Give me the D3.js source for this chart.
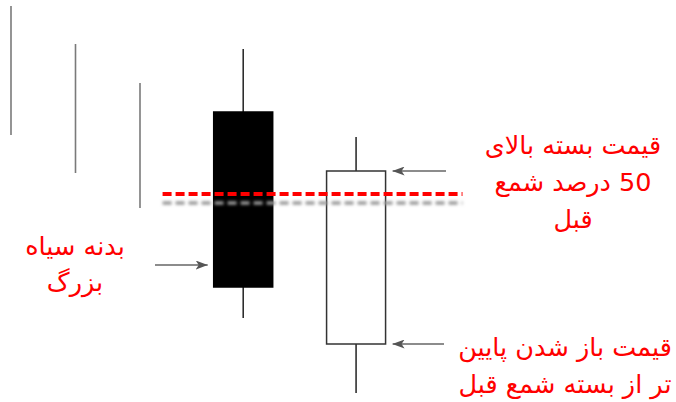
<!DOCTYPE html>
<html>
<head>
<meta charset="utf-8">
<script src="https://cdn.jsdelivr.net/npm/d3@7"></script>
<style>
  body { margin: 0; background: #fff; }
  text { font-family: "DejaVu Sans", sans-serif; fill: #ff0000; }
</style>
</head>
<body>
<script>
const WIDTH = 676;
const HEIGHT = 402;

// previous candles, only their shadows are visible
const prevSlots = [0, 1, 2];
const prevHigh = [394, 356, 317];
const prevLow = [265, 227, 192];

// black candle then white candle
const candleSlots = [3.6, 5.35];
const candleOpen = [288, 56];
const candleClose = [113, 229];
const candleHigh = [351, 263];
const candleLow = [82, 7];

const midLevel = 206;

const labelTopRight = ["قیمت بسته بالای", "50 درصد شمع", "قبل"];
const labelLeft = ["بدنه سیاه", "بزرگ"];
const labelBottomRight = ["قیمت باز شدن پایین", "تر از بسته شمع قبل"];

const x = d3.scaleLinear().domain([0, 1]).range([11, 75.5]);
const y = d3.scaleLinear().domain([0, 400]).range([400, 0]);
const BODY = 59;

const svg = d3.select("body").append("svg")
  .attr("width", WIDTH)
  .attr("height", HEIGHT);

const defs = svg.append("defs");
defs.append("filter").attr("id", "blur")
  .attr("filterUnits", "userSpaceOnUse")
  .attr("x", 0).attr("y", 0).attr("width", WIDTH).attr("height", HEIGHT)
  .append("feGaussianBlur").attr("stdDeviation", 1.8);
defs.append("marker").attr("id", "arrow")
  .attr("viewBox", "0 0 12 9")
  .attr("refX", 12).attr("refY", 4.5)
  .attr("markerWidth", 12).attr("markerHeight", 9)
  .attr("markerUnits", "userSpaceOnUse")
  .attr("orient", "auto")
  .append("path").attr("d", "M0,0 L12,4.5 L0,9 L3,4.5 Z").attr("fill", "#555");

// previous shadows
svg.append("g").selectAll("line").data(prevSlots).join("line")
  .attr("x1", (d) => x(d)).attr("x2", (d) => x(d))
  .attr("y1", (d, i) => y(prevHigh[i]))
  .attr("y2", (d, i) => y(prevLow[i]))
  .attr("stroke", "#7a7a7a")
  .attr("stroke-width", 1.6);

const candles = candleSlots.map((s, i) => ({
  s, open: candleOpen[i], close: candleClose[i],
  high: candleHigh[i], low: candleLow[i],
}));

const cg = svg.append("g");
cg.selectAll(".wick").data(candles).join("line")
  .attr("x1", (d) => x(d.s)).attr("x2", (d) => x(d.s))
  .attr("y1", (d) => y(d.high)).attr("y2", (d) => y(d.low))
  .attr("stroke", "#222").attr("stroke-width", 1.5);
cg.selectAll(".body").data(candles).join("rect")
  .attr("x", (d) => x(d.s) - BODY / 2)
  .attr("width", BODY)
  .attr("y", (d) => y(Math.max(d.open, d.close)))
  .attr("height", (d) => Math.abs(y(d.open) - y(d.close)))
  .attr("fill", (d) => (d.close < d.open ? "#000" : "#fff"))
  .attr("stroke", (d) => (d.close < d.open ? "#000" : "#333"))
  .attr("stroke-width", 1.5);

// 50% line with its shadow
const lx1 = x(2.35), lx2 = x(7);
svg.append("line")
  .attr("x1", lx1).attr("x2", lx2)
  .attr("y1", y(midLevel) + 9).attr("y2", y(midLevel) + 9)
  .attr("stroke", "#999").attr("stroke-width", 3.5)
  .attr("stroke-dasharray", "9,4")
  .attr("filter", "url(#blur)");
svg.append("line")
  .attr("x1", lx1).attr("x2", lx2)
  .attr("y1", y(midLevel)).attr("y2", y(midLevel))
  .attr("stroke", "#ff0000").attr("stroke-width", 3.8)
  .attr("stroke-dasharray", "9,4");

// arrows
const black = candles[0], white = candles[1];
const arrows = [
  { x1: 155, x2: x(black.s) - BODY / 2 - 6, yv: 135 },
  { x1: 446, x2: x(white.s) + BODY / 2 + 7, yv: white.close },
  { x1: 444, x2: x(white.s) + BODY / 2 + 7, yv: white.open },
];
svg.append("g").selectAll("line").data(arrows).join("line")
  .attr("x1", (d) => d.x1).attr("x2", (d) => d.x2)
  .attr("y1", (d) => y(d.yv)).attr("y2", (d) => y(d.yv))
  .attr("stroke", "#666").attr("stroke-width", 1.3)
  .attr("marker-end", "url(#arrow)");

const drawLabel = (lines, cx, cy0, step) => {
  svg.append("g").selectAll("text").data(lines).join("text")
    .attr("x", cx)
    .attr("y", (d, i) => cy0 + i * step)
    .attr("text-anchor", "middle")
    .attr("dominant-baseline", "central")
    .attr("direction", "rtl")
    .attr("font-size", 25.5)
    .text((d) => d);
};

drawLabel(labelTopRight, 573, 145, 37);
drawLabel(labelLeft, 75, 246, 36);
drawLabel(labelBottomRight, 565, 347, 37);
</script>
</body>
</html>
